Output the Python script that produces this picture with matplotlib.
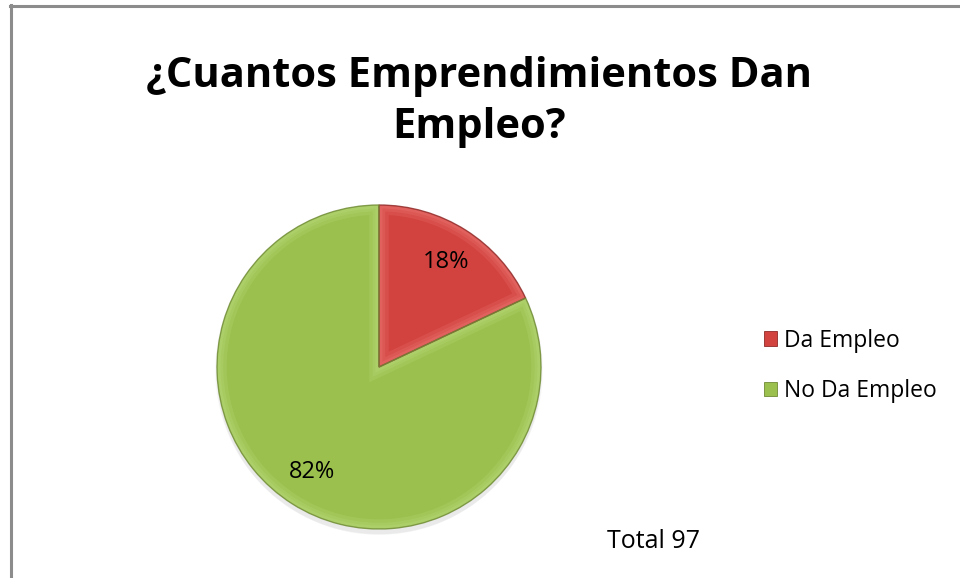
import matplotlib
matplotlib.use("Agg")
import matplotlib.pyplot as plt
from matplotlib.patches import Patch, Wedge, Circle
from matplotlib.lines import Line2D

title = "¿Cuantos Emprendimientos Dan\nEmpleo?"
categories = ["Da Empleo", "No Da Empleo"]
shares = [18, 82]
total = 97
colors = ["#D2433F", "#9BC04E"]
lights = ["#E8726E", "#B8D878"]
edges = ["#8E2A28", "#6E8A34"]

plt.rcParams["font.family"] = ["Open Sans", "DejaVu Sans"]

W, H = 960, 578
fig = plt.figure(figsize=(W / 100, H / 100), dpi=100)

# chart frame (top and left edges visible)
fig.add_artist(Line2D([10 / W, 1], [1 - 6 / H, 1 - 6 / H], color="#8C8C8C", lw=2.2))
fig.add_artist(Line2D([11 / W, 11 / W], [0, 1 - 5 / H], color="#8C8C8C", lw=2.2))

fig.text(479 / W, 1 - 102 / H, title, ha="center", va="center",
         fontsize=30, fontweight="bold", linespacing=1.32)

cx, cy, r = 379, 367, 162
pad = 1.04
ra = r * pad
ax = fig.add_axes([(cx - ra) / W, 1 - (cy + ra) / H, 2 * ra / W, 2 * ra / H])

# soft drop shadow under the pie
for k, a in enumerate([0.05, 0.05, 0.06]):
    ax.add_patch(Circle((0.0, -0.02 - 0.008 * k), 1.0 + 0.006 * (2 - k),
                        facecolor="#808080", edgecolor="none", alpha=a, zorder=0))

wedges, _, autotexts = ax.pie(
    shares, colors=colors, startangle=90, counterclock=False,
    autopct="%1.0f%%", pctdistance=0.77,
    wedgeprops=dict(linewidth=0),
    textprops=dict(fontsize=17, color="black", zorder=5))

# bevel: light band just inside each slice edge, dark rim on the outside
for w, lt, ec in zip(wedges, lights, edges):
    w.set_zorder(1)
    for lw, a in [(14, 0.25), (9, 0.3), (5, 0.35)]:
        band = Wedge(w.center, w.r, w.theta1, w.theta2, facecolor="none",
                     edgecolor=lt, linewidth=lw, alpha=a, zorder=2)
        ax.add_patch(band)
        band.set_clip_path(w)
    ax.add_patch(Wedge(w.center, w.r, w.theta1, w.theta2, facecolor="none",
                       edgecolor=ec, linewidth=1.0, alpha=0.8, zorder=3))

ax.set_xlim(-pad, pad)
ax.set_ylim(-pad, pad)
ax.set_aspect("auto")
ax.axis("off")

handles = [Patch(facecolor=c, edgecolor=e, linewidth=0.6) for c, e in zip(colors, edges)]
fig.legend(handles, categories, loc="center left",
           bbox_to_anchor=(743 / W, 1 - 366 / H), frameon=False,
           fontsize=16.5, handlelength=0.6, handleheight=0.6,
           handletextpad=0.3, labelspacing=1.15)

fig.text(607 / W, 1 - 541 / H, f"Total {total}", ha="left", va="center", fontsize=18)

fig.savefig("out.png", dpi=100)
